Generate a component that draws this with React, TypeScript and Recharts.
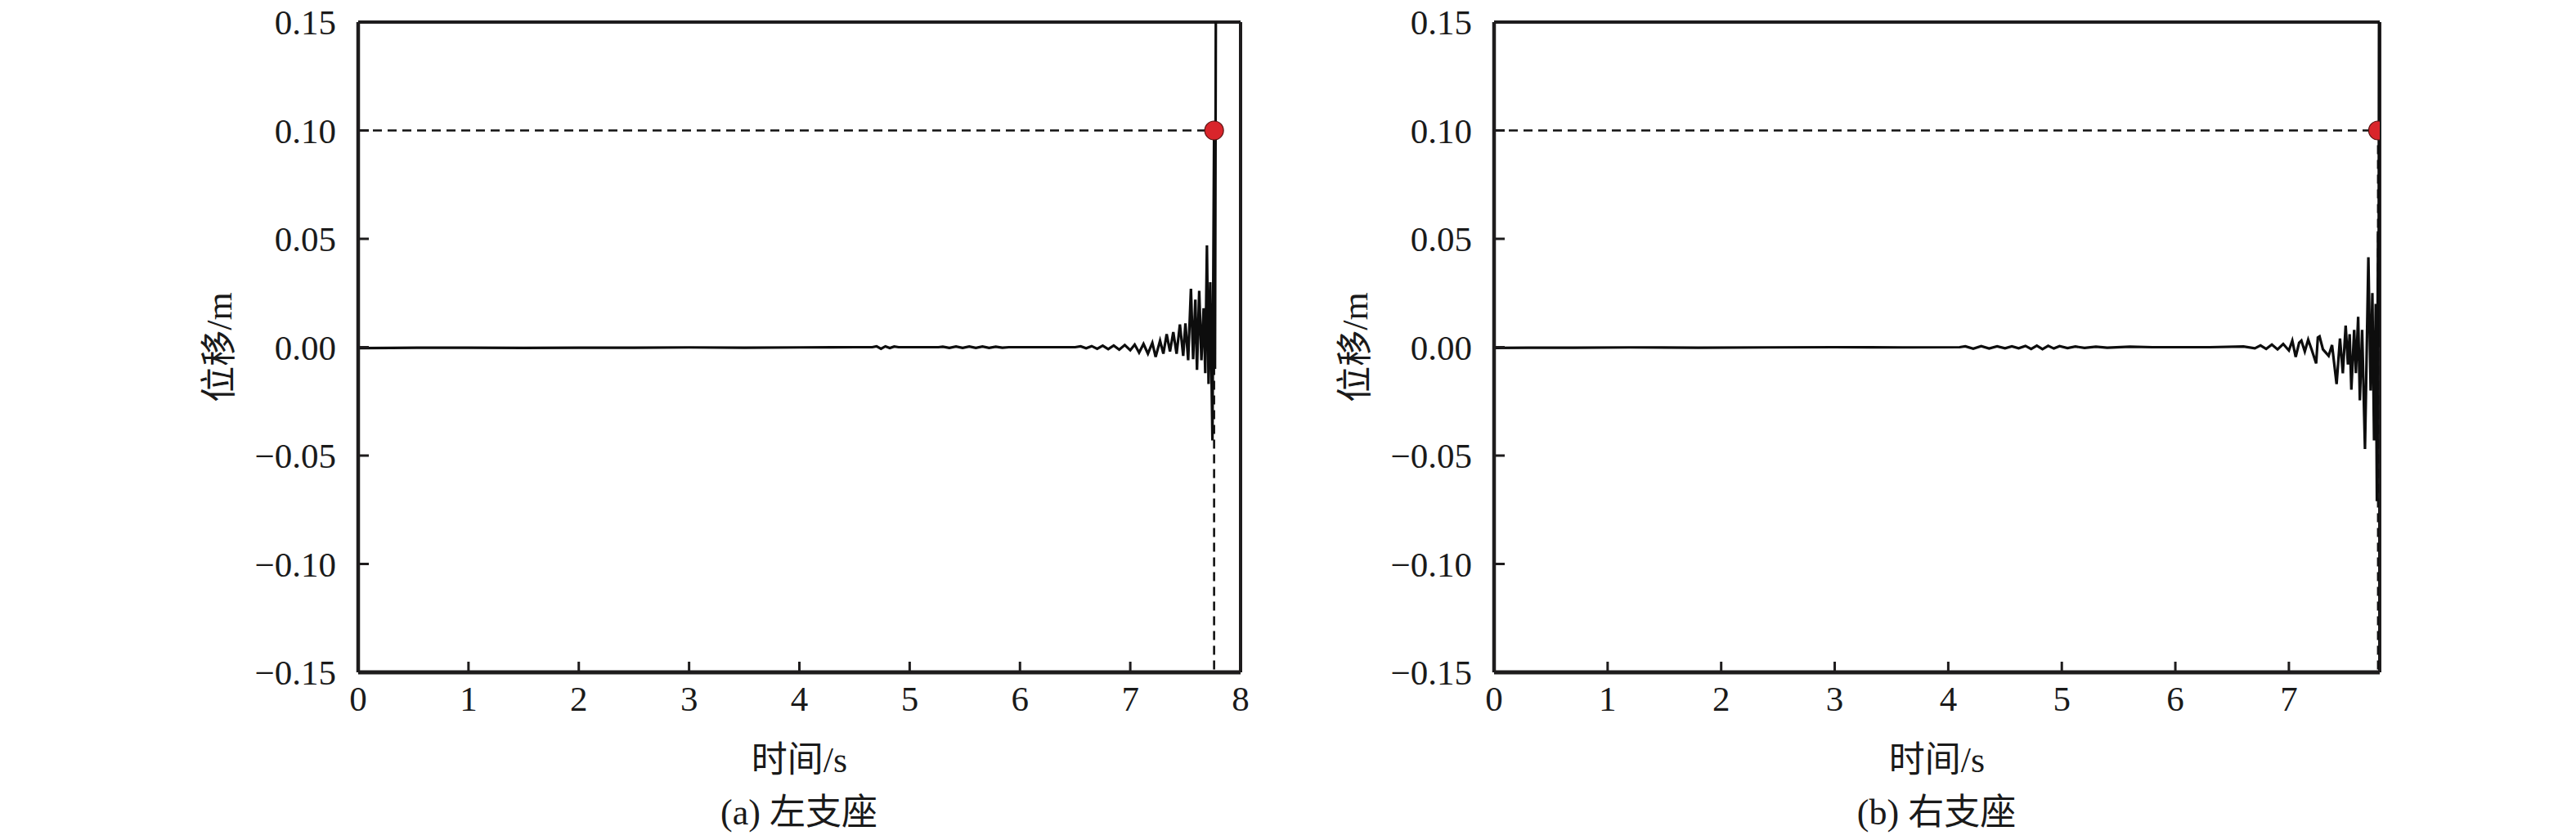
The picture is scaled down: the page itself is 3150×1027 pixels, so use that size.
import React from 'react';
import { LineChart, Line, XAxis, YAxis, ReferenceLine, ReferenceDot, Label } from 'recharts';

// ---- data ----
const leftTime = [
  0, 0.3, 0.6, 1.0, 1.5, 2.0, 2.5, 3.0, 3.5, 4.0, 4.5, 4.66,
  4.70, 4.74, 4.78, 4.82, 4.86, 4.90, 5.1, 5.26,
  5.30, 5.36, 5.42, 5.48, 5.54, 5.60, 5.66, 5.72, 5.78, 5.84, 5.90, 6.2, 6.5,
  6.55, 6.60, 6.65, 6.70, 6.75, 6.80, 6.85, 6.90, 6.95, 7.00, 7.04, 7.08, 7.12, 7.16, 7.20,
  7.23, 7.27, 7.30, 7.33, 7.36, 7.39, 7.42, 7.45, 7.48, 7.50, 7.525, 7.55, 7.57, 7.59,
  7.605, 7.625, 7.645, 7.665, 7.68, 7.695, 7.71, 7.725, 7.745, 7.76, 7.768, 7.778,
];
const leftDisp = [
  -0.0004, -0.0003, -0.0002, -0.0002, -0.0003, -0.0002, -0.0002, -0.0001, -0.0002, -0.0001, 0, 0,
  0.0004, -0.0007, 0.0004, -0.0004, 0.0003, 0, 0, 0,
  0.0002, -0.0003, 0.0003, -0.0003, 0.0003, -0.0003, 0.0003, -0.0003, 0.0002, -0.0002, 0, 0, 0,
  0.0004, -0.0005, 0.0005, -0.0007, 0.0007, -0.0009, 0.0008, -0.0011, 0.001, -0.0014, 0.0012, -0.0025, 0.0015, -0.003, 0.002,
  -0.0045, 0.003, -0.003, 0.006, -0.002, 0.007, -0.003, 0.0105, -0.004, 0.011, -0.006, 0.027, -0.0055, 0.022,
  -0.0105, 0.026, -0.006, 0.018, -0.012, 0.047, -0.017, 0.03, -0.043, 0.1, -0.01, 0.2,
];

const rightTime = [
  0, 0.3, 0.7, 1.2, 1.8, 2.4, 3.0, 3.6, 4.1,
  4.15, 4.22, 4.29, 4.36, 4.43, 4.50, 4.56, 4.62, 4.68, 4.73, 4.78, 4.83, 4.88, 4.93, 4.98,
  5.05, 5.12, 5.20, 5.30, 5.40, 5.60, 5.80, 6.30, 6.60, 6.70,
  6.75, 6.80, 6.85, 6.90, 6.95, 7.00, 7.03, 7.06, 7.09, 7.11, 7.14, 7.17, 7.20, 7.24, 7.255, 7.27,
  7.30, 7.35, 7.38, 7.42, 7.45, 7.475, 7.50, 7.52, 7.535, 7.55, 7.575, 7.59, 7.61, 7.625, 7.645,
  7.67, 7.70, 7.72, 7.735, 7.75, 7.765, 7.775, 7.785, 7.79, 7.795,
];
const rightDisp = [
  -0.0003, -0.0002, -0.0002, -0.0001, -0.0002, -0.0001, 0, -0.0001, 0,
  0.0004, -0.0007, 0.0005, -0.0006, 0.0004, -0.0005, 0.0004, -0.0005, 0.0006, -0.0008, 0.0007, -0.0009, 0.0006, -0.0006, 0.0005,
  -0.0004, 0.0003, -0.0003, 0.0002, -0.0002, 0.0002, 0, 0, 0.0003, -0.0005,
  0.0008, -0.0008, 0.0012, -0.001, 0.0015, -0.0015, 0.003, -0.0045, 0.002, 0.003, -0.002, 0.0035, -0.001, -0.0075, 0.0045, 0.005,
  -0.001, -0.004, 0.001, -0.017, 0.004, -0.012, 0.01, -0.008, 0.006, -0.0196, 0.008, -0.012, 0.014, -0.0245, 0.008,
  -0.047, 0.0415, -0.02, 0.025, -0.043, 0.02, -0.071, 0.0535, 0, 0.2,
];

const yTicks = [-0.15, -0.1, -0.05, 0, 0.05, 0.1, 0.15];
const leftXTicks = [0, 1, 2, 3, 4, 5, 6, 7, 8];
const rightXTicks = [0, 1, 2, 3, 4, 5, 6, 7];
const leftXMax = 8;
const rightXMax = 7.8;
const limitValue = 0.1;
const leftFailTime = 7.76;
const rightFailTime = 7.785;

const xLabel = '时间/s';
const yLabel = '位移/m';
const leftCaption = '(a) 左支座';
const rightCaption = '(b) 右支座';

// ---- styling ----
const FONT = "'Liberation Serif', 'Times New Roman', 'Noto Sans CJK SC', serif";
const TICK_FONT = 43;
const AXIS_COLOR = '#1e1c1d';

const fmtY = (v: number) => {
  const s = Math.abs(v).toFixed(2);
  return v < 0 ? '\u2212' + s : s;
};

const buildRows = (t: number[], d: number[]) => t.map((x, i) => ({ t: x, d: d[i] }));
const leftRows = buildRows(leftTime, leftDisp);
const rightRows = buildRows(rightTime, rightDisp);

type PanelProps = {
  rows: { t: number; d: number }[];
  xMax: number;
  xTicks: number[];
  failTime: number;
  width: number;
  yAxisWidth: number;
  rightMargin: number;
};

const Panel = ({ rows, xMax, xTicks, failTime, width, yAxisWidth, rightMargin }: PanelProps) => (
  <LineChart
    width={width}
    height={1027}
    data={rows}
    margin={{ top: 27, right: rightMargin, bottom: 0, left: 0 }}
  >
    <XAxis
      dataKey="t"
      type="number"
      domain={[0, xMax]}
      ticks={xTicks}
      allowDataOverflow
      height={205}
      tickSize={-13}
      tickMargin={29}
      stroke={AXIS_COLOR}
      strokeWidth={5}
      tick={{ fill: '#1a1a1a', fontSize: TICK_FONT, fontFamily: FONT }}
      tickLine={{ stroke: AXIS_COLOR, strokeWidth: 3 }}
    >
      <Label
        content={({ viewBox }: any) => (
          <text
            x={viewBox.x + viewBox.width / 2}
            y={viewBox.y + 122}
            textAnchor="middle"
            fontSize={44}
            fontFamily={FONT}
            fill="#1a1a1a"
          >
            {xLabel}
          </text>
        )}
      />
    </XAxis>
    <YAxis
      dataKey="d"
      type="number"
      domain={[-0.15, 0.15]}
      ticks={yTicks}
      allowDataOverflow
      width={yAxisWidth}
      tickSize={-13}
      tickMargin={40}
      tickFormatter={fmtY}
      stroke={AXIS_COLOR}
      strokeWidth={4.5}
      tick={{ fill: '#1a1a1a', fontSize: TICK_FONT, fontFamily: FONT }}
      tickLine={{ stroke: AXIS_COLOR, strokeWidth: 3 }}
    >
      <Label
        content={({ viewBox }: any) => {
          const cx = viewBox.x + viewBox.width - 170;
          const cy = viewBox.y + viewBox.height / 2;
          return (
            <text
              x={cx}
              y={cy}
              textAnchor="middle"
              dominantBaseline="central"
              transform={`rotate(-90, ${cx}, ${cy})`}
              fontSize={44}
              fontFamily={FONT}
              fill="#1a1a1a"
            >
              {yLabel}
            </text>
          );
        }}
      />
    </YAxis>
    <ReferenceLine y={0.15} stroke={AXIS_COLOR} strokeWidth={4} />
    <ReferenceLine x={xMax} stroke={AXIS_COLOR} strokeWidth={4} />
    <ReferenceLine
      segment={[{ x: 0, y: limitValue }, { x: failTime, y: limitValue }]}
      stroke="#111111"
      strokeWidth={2.6}
      strokeDasharray="11 7"
    />
    <ReferenceLine
      segment={[{ x: failTime, y: limitValue }, { x: failTime, y: -0.15 }]}
      stroke="#111111"
      strokeWidth={2.6}
      strokeDasharray="11 7"
    />
    <Line
      type="linear"
      dataKey="d"
      stroke="#0d0d0d"
      strokeWidth={3.2}
      dot={false}
      activeDot={false}
      isAnimationActive={false}
    />
    <ReferenceDot
      x={failTime}
      y={limitValue}
      r={11.5}
      fill="#d9252b"
      stroke="#5a1414"
      strokeWidth={1.2}
      ifOverflow="hidden"
    />
  </LineChart>
);

const captionStyle = (cx: number): React.CSSProperties => ({
  position: 'absolute',
  left: cx - 300,
  width: 600,
  top: 994 - 26,
  height: 52,
  lineHeight: '52px',
  textAlign: 'center',
  fontSize: 44,
  fontFamily: FONT,
  color: '#1a1a1a',
});

export default function App() {
  return (
    <div
      style={{
        position: 'absolute',
        left: 0,
        top: 0,
        width: 3150,
        height: 1027,
        background: '#ffffff',
        overflow: 'hidden',
      }}
    >
      <div style={{ position: 'absolute', left: 0, top: 0 }}>
        <Panel
          rows={leftRows}
          xMax={leftXMax}
          xTicks={leftXTicks}
          failTime={leftFailTime}
          width={1600}
          yAxisWidth={438}
          rightMargin={83}
        />
      </div>
      <div style={{ position: 'absolute', left: 1600, top: 0 }}>
        <Panel
          rows={rightRows}
          xMax={rightXMax}
          xTicks={rightXTicks}
          failTime={rightFailTime}
          width={1550}
          yAxisWidth={227}
          rightMargin={240}
        />
      </div>
      <div style={captionStyle(977)}>{leftCaption}</div>
      <div style={captionStyle(2368)}>{rightCaption}</div>
    </div>
  );
}
